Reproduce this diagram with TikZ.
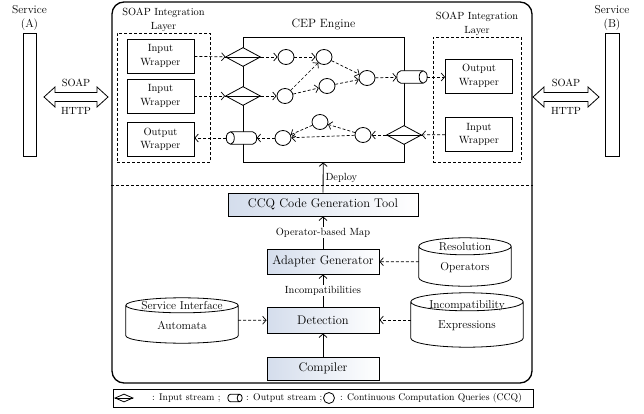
\documentclass[tikz,border=0pt]{standalone}
\usepackage{tikz}
\usetikzlibrary{positioning}
\usetikzlibrary{calc}
\usetikzlibrary{shapes.geometric}
\usetikzlibrary{arrows.meta}

\definecolor{toolshade}{RGB}{212,221,236}

% vertical store drawn round a node: name, radius of the end ellipse
\newcommand{\dbshape}[2]{%
    \draw[line width=0.8pt] let \p1=(#1.north west), \p2=(#1.south east), \n1={(\x2-\x1)/2} in
        (\x1,\y1-#2pt) -- (\x1,\y2+#2pt) arc[start angle=180, end angle=360, x radius=\n1, y radius=#2pt]
        -- (\x2,\y1-#2pt) arc[start angle=0, end angle=360, x radius=\n1, y radius=#2pt];}
% output stream drawn round a node, open end to the east
\newcommand{\pipeeast}[2]{%
    \draw[line width=0.8pt, fill=white] let \p1=(#1.north west), \p2=(#1.south east), \n1={(\y1-\y2)/2} in
        (\x2-#2pt,\y1) -- (\x1+#2pt,\y1) arc[start angle=90, end angle=270, x radius=#2pt, y radius=\n1]
        -- (\x2-#2pt,\y2) arc[start angle=-90, end angle=270, x radius=#2pt, y radius=\n1];}
% output stream drawn round a node, open end to the west
\newcommand{\pipewest}[2]{%
    \draw[line width=0.8pt, fill=white] let \p1=(#1.north west), \p2=(#1.south east), \n1={(\y1-\y2)/2} in
        (\x1+#2pt,\y1) -- (\x2-#2pt,\y1) arc[start angle=90, end angle=-90, x radius=#2pt, y radius=\n1]
        -- (\x1+#2pt,\y2) arc[start angle=270, end angle=-90, x radius=#2pt, y radius=\n1];}

\tikzset{
    wrapbox/.style={draw, line width=0.8pt, minimum width=67pt, minimum height=34pt, inner sep=0pt, align=center, font=\fontsize{10.5}{13.5}\selectfont},
    layerbox/.style={draw, line width=0.8pt, dash pattern=on 3pt off 2pt},
    toolbox/.style={draw, line width=0.9pt, left color=toolshade, right color=white, inner sep=0pt, font=\fontsize{12.5}{14}\selectfont},
    store/.style={inner sep=0pt},
    storetext/.style={align=center, inner sep=0pt, font=\fontsize{11.5}{20}\selectfont},
    ccq/.style={draw, ellipse, line width=0.8pt, minimum width=16pt, minimum height=15pt, inner sep=0pt, fill=white},
    instream/.style={draw, diamond, line width=0.8pt, minimum width=35pt, minimum height=19pt, inner sep=0pt, fill=white},
    outstream/.style={minimum width=30pt, minimum height=12pt, inner sep=0pt},
    flow/.style={line width=0.7pt, dash pattern=on 3pt off 2pt, -{Straight Barb[length=3.5pt,width=8pt]}},
    link/.style={line width=0.8pt, -{Straight Barb[length=3.5pt,width=8pt]}},
    lbl/.style={font=\fontsize{10.4}{14}\selectfont, align=center, inner sep=1pt},
    keytext/.style={font=\fontsize{9.7}{11}\selectfont, anchor=west, inner sep=0pt},
}

\begin{document}
\begin{tikzpicture}[x=1pt, y=-1pt]
    \useasboundingbox (0,0) rectangle (644,414);

    % services and the SOAP/HTTP links
    \node[draw, line width=0.8pt, minimum width=13pt, minimum height=123pt] (srva) at (29.5,94.5) {};
    \node[draw, line width=0.8pt, minimum width=14pt, minimum height=123pt] (srvb) at (612,94.5) {};
    \node[lbl, font=\fontsize{11.5}{14}\selectfont, above=1pt of srva] (srval) {Service\\(A)};
    \node[lbl, font=\fontsize{11.5}{14}\selectfont, above=1pt of srvb] (srvbl) {Service\\(B)};

    \coordinate (la) at (44,97);
    \coordinate (ra) at (533,97);
    \draw[line width=0.8pt] (la) -- ++(11,-10) -- ++(0,5.5) -- ++(42,0) -- ++(0,-5.5) -- ++(11,10)
        -- ++(-11,10) -- ++(0,-5.5) -- ++(-42,0) -- ++(0,5.5) -- cycle;
    \draw[line width=0.8pt] (ra) -- ++(11,-10) -- ++(0,5.5) -- ++(44,0) -- ++(0,-5.5) -- ++(11,10)
        -- ++(-11,10) -- ++(0,-5.5) -- ++(-44,0) -- ++(0,5.5) -- cycle;
    \node[lbl] (soapa) at (76,83) {SOAP};
    \node[lbl] (httpa) at (76,111) {HTTP};
    \node[lbl] (soapb) at (566,83) {SOAP};
    \node[lbl] (httpb) at (566,111) {HTTP};

    % platform
    \node[draw, line width=1.3pt, rounded corners=12pt, minimum width=420pt, minimum height=381pt] (plat) at (322,192.5) {};
    \draw[line width=0.8pt, dash pattern=on 3pt off 2pt] (plat.west |- 0,185) -- (plat.east |- 0,185);

    % integration layers
    \node[layerbox, minimum width=93pt, minimum height=129pt] (layl) at (163.5,97.5) {};
    \node[layerbox, minimum width=88pt, minimum height=125pt] (layr) at (477,99.5) {};
    \node[lbl, above=0pt of layl] (layll) {SOAP Integration\\Layer};
    \node[lbl, above=0pt of layr] (layrl) {SOAP Integration\\Layer};

    \node[wrapbox] (iw1) at (160.5,56) {Input\\Wrapper};
    \node[wrapbox] (iw2) at (160.5,96) {Input\\Wrapper};
    \node[wrapbox] (ow1) at (160.5,139.5) {Output\\Wrapper};
    \node[wrapbox] (ow2) at (479,76) {Output\\Wrapper};
    \node[wrapbox] (iw3) at (479,134.5) {Input\\Wrapper};

    % CEP engine
    \node[draw, line width=0.8pt, minimum width=161pt, minimum height=125pt] (cep) at (323.5,99.5) {};
    \node[font=\fontsize{12}{14}\selectfont, above=3pt of cep] (cepl) {CEP Engine};

    \node[instream] (d1) at (243,57) {};
    \node[instream] (d2) at (243,96) {};
    \node[instream] (d3) at (404,135) {};
    \foreach \n in {d1,d2,d3} \draw[line width=0.8pt] (\n.west) -- (\n.east);
    \node[outstream] (o1) at (412,77) {};
    \node[outstream] (o2) at (241.5,138) {};
    \pipeeast{o1}{4}
    \pipewest{o2}{4}

    \node[ccq] (q1) at (286,57) {};
    \node[ccq] (q2) at (324,57) {};
    \node[ccq] (q3) at (327,86) {};
    \node[ccq] (q4) at (285,96) {};
    \node[ccq] (q5) at (367,78) {};
    \node[ccq] (q6) at (320,122) {};
    \node[ccq] (q7) at (363,135) {};
    \node[ccq] (q8) at (283,138) {};

    \draw[flow] (iw1) -- (d1);
    \draw[flow] (iw2) -- (d2);
    \draw[flow] (d1) -- (q1);
    \draw[flow] (d2) -- (q4);
    \draw[flow] (q1) -- (q2);
    \draw[flow] (q4) -- (q2);
    \draw[flow] (q4) -- (q3);
    \draw[flow] (q2) -- (q5);
    \draw[flow] (q3) -- (q5);
    \draw[flow] (q5) -- (o1);
    \draw[flow] (o1.east) -- (ow2.west |- o1.east);
    \draw[flow] (iw3) -- (d3);
    \draw[flow] (d3) -- (q7);
    \draw[flow] (q7) -- (q6);
    \draw[flow] (q6) -- (q8);
    \draw[flow] (q7) -- (q8);
    \draw[flow] (q8) -- (o2);
    \draw[flow] (o2.west) -- (ow1.east |- o2.west);

    % code generation chain
    \node[toolbox, minimum width=190pt, minimum height=23pt] (gen) at (323,204.5) {CCQ Code Generation Tool};
    \node[toolbox, minimum width=112pt, minimum height=25pt] (adapt) at (323,261.5) {Adapter Generator};
    \node[toolbox, minimum width=112pt, minimum height=26pt] (detect) at (323,320) {Detection};
    \node[toolbox, minimum width=112pt, minimum height=23pt] (comp) at (323,368.5) {Compiler};

    \node[store, minimum width=92pt, minimum height=48pt] (resop) at (465,262) {};
    \node[store, minimum width=112pt, minimum height=45pt] (sia) at (182,320.5) {};
    \node[store, minimum width=112pt, minimum height=54pt] (incexp) at (467,320) {};
    \dbshape{resop}{8.5}
    \dbshape{sia}{7.5}
    \dbshape{incexp}{9}
    \node[storetext] (resopt) at (465,258) {Resolution\\Operators};
    \node[storetext] (siat) at (182,316) {Service Interface\\Automata};
    \node[storetext] (incexpt) at (467,316) {Incompatibility\\Expressions};

    \draw[link] (gen) -- (cep) node[lbl, midway, right=1pt] (depl) {Deploy};
    \draw[link] (adapt) -- (gen) node[lbl, midway, fill=white] (mapl) {Operator-based Map};
    \draw[link] (detect) -- (adapt) node[lbl, midway, fill=white] (incl) {Incompatibilities};
    \draw[link, {Straight Barb[length=3.5pt,width=8pt]}-] (detect) -- (comp);
    \draw[flow] (resop) -- (adapt);
    \draw[flow] (sia) -- (detect);
    \draw[flow] (incexp) -- (detect);

    % legend
    \node[draw, line width=0.8pt, minimum width=420pt, minimum height=18pt] (key) at (323,398) {};
    \node[draw, diamond, line width=0.8pt, minimum width=18pt, minimum height=8pt, inner sep=0pt] (kd) at (124,398) {};
    \draw[line width=0.8pt] (kd.west) -- (kd.east);
    \node[keytext] (kdt) at (152,398.5) {: Input stream ;};
    \node[minimum width=14pt, minimum height=7pt, inner sep=0pt] (ko) at (235,398) {};
    \pipeeast{ko}{2.5}
    \node[keytext] (kot) at (246,398.5) {: Output stream ;};
    \node[draw, circle, line width=0.8pt, minimum size=11pt, inner sep=0pt] (kq) at (329,398) {};
    \node[keytext] (kqt) at (340,398.5) {: Continuous Computation Queries (CCQ)};
\end{tikzpicture}
\end{document}
